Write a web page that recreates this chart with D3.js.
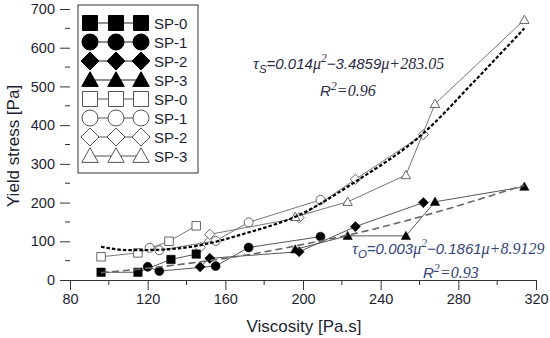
<!DOCTYPE html>
<html>
<head>
<meta charset="utf-8">
<script src="https://cdn.jsdelivr.net/npm/d3@7"></script>
<style>
 body { margin: 0; background: #fff; }
 svg { display: block; }
</style>
</head>
<body>
<div id="chart"></div>
<script>
// values: [viscosity, yield stress]
var legendNames = ["SP-0", "SP-1", "SP-2", "SP-3"];
var shapes = ["square", "circle", "diamond", "triangle"];

var filledSP0 = [[96, 20], [115, 20], [132, 53], [145, 67]];
var filledSP1 = [[120, 34], [126, 23], [155, 36], [172, 84], [209, 112]];
var filledSP2 = [[147, 34], [152, 56], [198, 73], [227, 138], [262, 200]];
var filledSP3 = [[196, 79], [223, 114], [253, 114], [268, 202], [314, 241]];

var openSP0 = [[96, 60], [115, 70], [131, 100], [145, 140]];
var openSP1 = [[121, 83], [126, 77], [155, 101], [172, 149], [209, 207]];
var openSP2 = [[147, 84], [152, 118], [198, 161], [227, 260], [262, 376]];
var openSP3 = [[196, 163], [223, 202], [253, 271], [268, 455], [314, 672]];

// fitted curves
var fitStaticX = [96, 110, 125, 145, 170, 198, 227, 262, 288, 314];
var fitStaticY = [86, 77, 78, 88, 120, 168, 254, 379, 512, 650];
var fitDynX = [96, 125, 150, 175, 200, 225, 250, 280, 314];
var fitDynY = [19, 33, 49, 68, 92, 118, 149, 192, 245];

var xTicks = [80, 120, 160, 200, 240, 280, 320];
var yTicks = [0, 100, 200, 300, 400, 500, 600, 700];

var W = 550, H = 338;
var svg = d3.select("#chart").append("svg").attr("width", W).attr("height", H);

var x = d3.scaleLinear().domain([80, 320]).range([70, 536]);
var y = d3.scaleLinear().domain([0, 700]).range([280, 9]);

var txt = "#1e1e32";

// x axis
var xAxis = d3.axisBottom(x).tickValues(xTicks).tickSize(10).tickPadding(4).tickSizeOuter(0);
var gx = svg.append("g").attr("transform", "translate(0,280)").call(xAxis);
gx.select(".domain").attr("stroke", "#333");
gx.selectAll(".tick line").attr("stroke", "#333");
gx.selectAll(".tick text").attr("fill", txt).style("font-family", "Liberation Sans, Arial").style("font-size", "14.5px");
gx.selectAll(".minor").data(d3.range(100, 320, 40)).enter().append("line")
  .attr("x1", function(d) { return x(d); }).attr("x2", function(d) { return x(d); })
  .attr("y1", 0).attr("y2", 5).attr("stroke", "#333");

// y axis (ticks only, no spine)
var yAxis = d3.axisLeft(y).tickValues(yTicks).tickSize(10).tickPadding(5);
var gy = svg.append("g").attr("transform", "translate(70,0)").call(yAxis);
gy.select(".domain").remove();
gy.selectAll(".tick line").attr("stroke", "#333");
gy.selectAll(".tick text").attr("fill", txt).style("font-family", "Liberation Sans, Arial").style("font-size", "14.5px");
gy.selectAll(".minor").data(d3.range(50, 700, 100)).enter().append("line")
  .attr("x1", -5).attr("x2", 0)
  .attr("y1", function(d) { return y(d); }).attr("y2", function(d) { return y(d); })
  .attr("stroke", "#333");

svg.append("text").attr("x", 304).attr("y", 332).attr("text-anchor", "middle")
  .attr("fill", txt).style("font-family", "Liberation Sans, Arial").style("font-size", "17px")
  .text("Viscosity [Pa.s]");
svg.append("text").attr("transform", "translate(19,146) rotate(-90)").attr("text-anchor", "middle")
  .attr("fill", txt).style("font-family", "Liberation Sans, Arial").style("font-size", "17px")
  .text("Yield stress [Pa]");

function markerPath(shape, s) {
  var h = s / 2;
  if (shape == "square") return "M" + -h + "," + -h + "h" + s + "v" + s + "h" + -s + "Z";
  if (shape == "circle") return "M" + -h + ",0a" + h + "," + h + " 0 1,0 " + s + ",0a" + h + "," + h + " 0 1,0 " + -s + ",0Z";
  if (shape == "diamond") { var d = h * 1.2; return "M0," + -d + "L" + d + ",0L0," + d + "L" + -d + ",0Z"; }
  return "M0," + (-h * 1.1) + "L" + h * 1.1 + "," + h * 0.85 + "L" + (-h * 1.1) + "," + h * 0.85 + "Z";
}

var line = d3.line().x(function(d) { return x(d[0]); }).y(function(d) { return y(d[1]); });

function drawSeries(data, shape, filled) {
  var g = svg.append("g");
  g.append("path").attr("d", line(data)).attr("fill", "none")
    .attr("stroke", filled ? "#444" : "#666").attr("stroke-width", 0.9);
  g.selectAll("path.m").data(data).enter().append("path").attr("class", "m")
    .attr("transform", function(d) { return "translate(" + x(d[0]) + "," + y(d[1]) + ")"; })
    .attr("d", markerPath(shape, shape == "circle" ? 9 : 8.5))
    .attr("fill", filled ? "#000" : "#fff")
    .attr("stroke", filled ? "#000" : "#555").attr("stroke-width", filled ? 0.5 : 0.9);
}

var openSets = [openSP0, openSP1, openSP2, openSP3];
var filledSets = [filledSP0, filledSP1, filledSP2, filledSP3];
openSets.forEach(function(s, i) { drawSeries(s, shapes[i], false); });
filledSets.forEach(function(s, i) { drawSeries(s, shapes[i], true); });

// fit curves
var curve = d3.line().curve(d3.curveMonotoneX)
  .x(function(d) { return x(d[0]); }).y(function(d) { return y(d[1]); });
svg.append("path").attr("d", curve(d3.zip(fitStaticX, fitStaticY)))
  .attr("fill", "none").attr("stroke", "#000").attr("stroke-width", 2.2).attr("stroke-dasharray", "3.5,2");
svg.append("path").attr("d", curve(d3.zip(fitDynX, fitDynY)))
  .attr("fill", "none").attr("stroke", "#666").attr("stroke-width", 1.6).attr("stroke-dasharray", "7,4");

// legend
var lg = svg.append("g");
lg.append("rect").attr("x", 78).attr("y", 5).attr("width", 120).attr("height", 168)
  .attr("fill", "#fff").attr("stroke", "#333").attr("stroke-width", 1);
var rows = [];
[true, false].forEach(function(f) { legendNames.forEach(function(n, i) { rows.push({ name: n, shape: shapes[i], filled: f }); }); });
rows.forEach(function(r, i) {
  var yy = 23 + i * 19;
  lg.append("line").attr("x1", 90).attr("x2", 141).attr("y1", yy).attr("y2", yy)
    .attr("stroke", r.filled ? "#222" : "#555").attr("stroke-width", 1);
  [90, 116, 141].forEach(function(xx) {
    lg.append("path").attr("transform", "translate(" + xx + "," + yy + ")")
      .attr("d", markerPath(r.shape, r.shape == "circle" ? 16 : 15))
      .attr("fill", r.filled ? "#000" : "#fff")
      .attr("stroke", r.filled ? "#000" : "#555").attr("stroke-width", 1);
  });
  lg.append("text").attr("x", 154).attr("y", yy + 5.5).attr("fill", txt)
    .style("font-family", "Liberation Sans, Arial").style("font-size", "15px").text(r.name);
});

// equations
function equation(xp, yp, color, sub, a, b, c) {
  var t = svg.append("text").attr("x", xp).attr("y", yp).attr("fill", color).style("font-size", "15px");
  t.append("tspan").style("font-family", "Liberation Serif").style("font-style", "italic").style("font-size", "16.5px").text("τ");
  t.append("tspan").attr("dy", 4).style("font-family", "Liberation Sans").style("font-style", "italic").style("font-size", "11.5px").text(sub);
  t.append("tspan").attr("dy", -4).style("font-family", "Liberation Sans").style("font-style", "italic").text(a);
  t.append("tspan").style("font-family", "Liberation Serif").style("font-style", "italic").style("font-size", "16px").text("μ");
  t.append("tspan").attr("dy", -7).style("font-family", "Liberation Serif").style("font-style", "italic").style("font-size", "11.5px").text("2");
  t.append("tspan").attr("dy", 7).style("font-family", "Liberation Sans").style("font-style", "italic").text(b);
  t.append("tspan").style("font-family", "Liberation Serif").style("font-style", "italic").style("font-size", "16px").text(c);
}
function rsq(xp, yp, color, v) {
  var t = svg.append("text").attr("x", xp).attr("y", yp).attr("fill", color).style("font-size", "15px");
  t.append("tspan").style("font-family", "Liberation Sans").style("font-style", "italic").text("R");
  t.append("tspan").attr("dy", -6).style("font-family", "Liberation Serif").style("font-style", "italic").style("font-size", "12px").text("2");
  t.append("tspan").attr("dy", 6).style("font-family", "Liberation Serif").style("font-style", "italic").style("font-size", "16px").text("=" + v);
}
equation(253, 69, "#2a2a44", "S", "=0.014", "−3.4859", "μ+283.05");
rsq(320, 96, "#2a2a44", "0.96");
equation(352, 254, "#33447a", "O", "=0.003", "−0.1861", "μ+8.9129");
rsq(423, 278, "#33447a", "0.93");
</script>
</body>
</html>
